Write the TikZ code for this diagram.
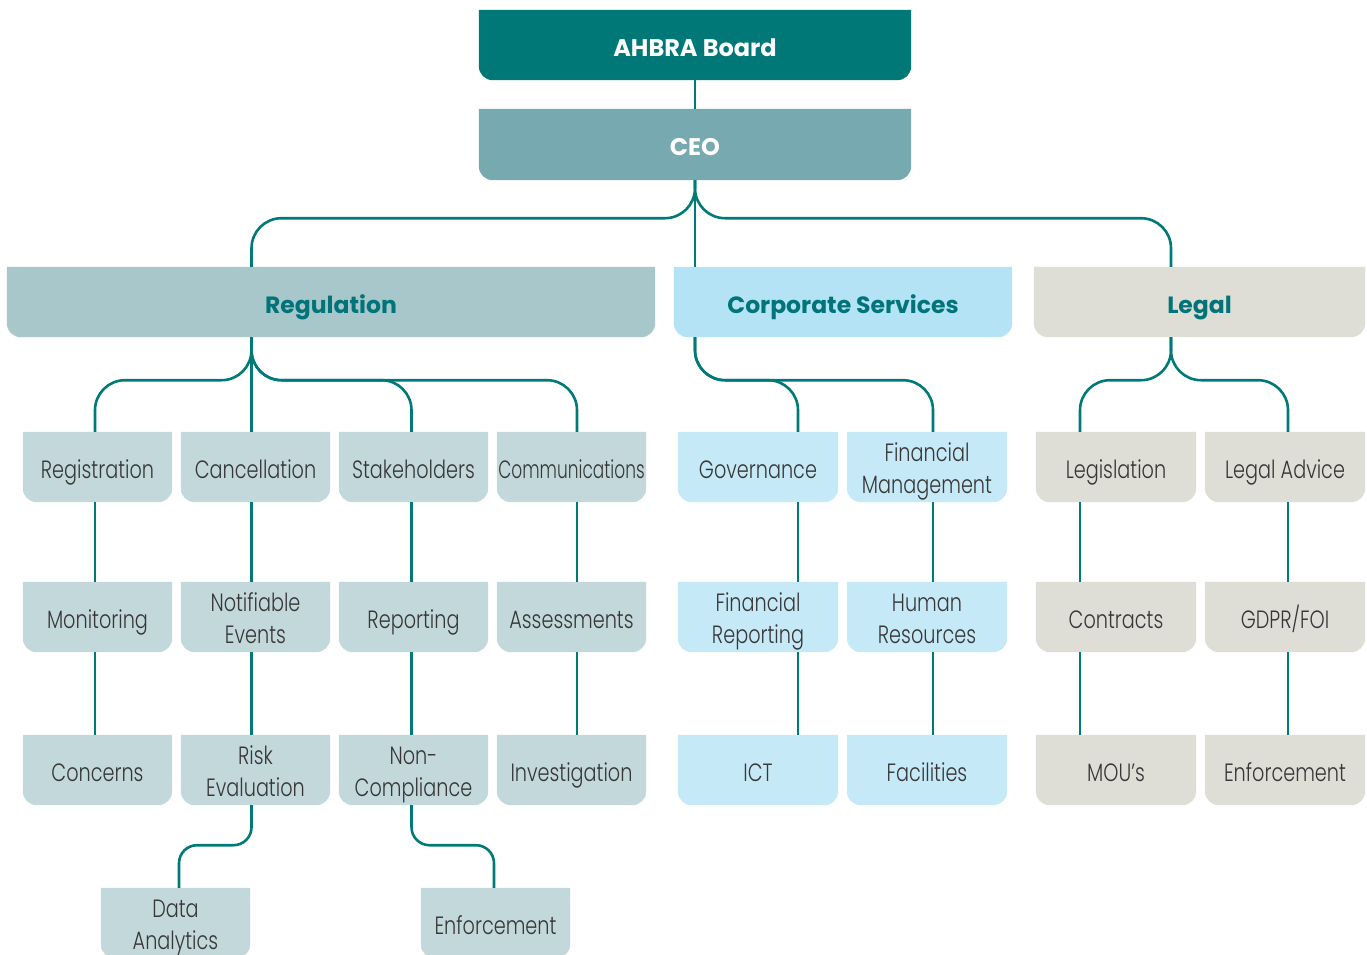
\documentclass[tikz,border=0pt]{standalone}
\usepackage{fontspec}
\setmainfont{Poppins}
\newfontfamily\boldfont{Poppins Bold}
\newfontfamily\lightfont{Poppins Light}[FakeStretch=0.77]
\newfontfamily\narrowfont{Poppins Light}[FakeStretch=0.68]
\usetikzlibrary{backgrounds}

\definecolor{boardcol}{RGB}{0,120,120}
\definecolor{ceocol}{RGB}{119,170,176}
\definecolor{reghead}{RGB}{168,199,202}
\definecolor{regsub}{RGB}{194,216,219}
\definecolor{cshead}{RGB}{180,227,246}
\definecolor{cssub}{RGB}{198,233,247}
\definecolor{legalcol}{RGB}{222,221,214}
\definecolor{headtext}{RGB}{0,116,120}
\definecolor{subtext}{RGB}{55,55,55}
\definecolor{linkcol}{RGB}{0,122,120}

% fill a box whose bottom corners are rounded
\newcommand\tabfill[2]{%
  \fill[#2] (#1.north west) -- (#1.north east)
    -- ([yshift=14pt]#1.south east) arc[start angle=0,end angle=-90,radius=14pt]
    -- ([xshift=14pt]#1.south west) arc[start angle=270,end angle=180,radius=14pt]
    -- cycle;}

% two centred lines with a fixed first-line height
\newcommand\twoln[2]{\vbox{\halign{\hfil##\hfil\cr\rule{0pt}{29pt}#1\cr #2\cr}}}

\tikzset{
  % struts give every label the same height and depth
  struts/.style={execute at begin node={\rule{0pt}{31pt}},
                 execute at end node={\rule[-9pt]{0pt}{9pt}}},
  topbox/.style={struts, minimum width=432pt, minimum height=70pt, inner sep=0pt,
    font=\boldfont\fontsize{24}{32}\selectfont, text=white},
  headbox/.style={struts, minimum height=70pt, inner sep=0pt,
    font=\boldfont\fontsize{23.5}{32}\selectfont, text=headtext},
  subbox/.style={struts, minimum width=149pt, minimum height=70pt, inner sep=0pt,
    font=\lightfont\fontsize{25}{32}\selectfont, text=subtext},
  narrowbox/.style={subbox, font=\narrowfont\fontsize{25}{32}\selectfont},
  widebox/.style={subbox, minimum width=160pt},
  link/.style={draw=linkcol, line width=2.6pt, rounded corners=30pt},
  tightlink/.style={link, rounded corners=18pt},
}

\begin{document}
\begin{tikzpicture}[x=1pt,y=-1pt]
\useasboundingbox (0,0) rectangle (1367,954);

% top of the chart
\node[topbox] (board) at (695,45) {AHBRA Board};
\node[topbox, minimum height=71pt] (ceo) at (695,144.5) {CEO};

% divisions
\node[headbox, minimum width=648pt] (reg) at (331,302) {Regulation};
\node[headbox, minimum width=338pt] (cs) at (843,302) {Corporate Services};
\node[headbox, minimum width=331pt] (legal) at (1199.5,302) {Legal};

% Regulation units
\node[subbox] (registration) at (97.5,467) {Registration};
\node[subbox] (cancel) at (255.5,467) {Cancellation};
\node[subbox] (stake) at (413.5,467) {Stakeholders};
\node[narrowbox] (comms) at (571.5,467) {Communications};
\node[subbox] (monitor) at (97.5,617) {Monitoring};
\node[subbox] (notify) at (255.5,617) {\twoln{Notifiable}{Events}};
\node[subbox] (report) at (413.5,617) {Reporting};
\node[subbox] (assess) at (571.5,617) {Assessments};
\node[subbox] (concern) at (97.5,770) {Concerns};
\node[subbox] (risk) at (255.5,770) {\twoln{Risk}{Evaluation}};
\node[subbox] (noncomp) at (413.5,770) {\twoln{Non-}{Compliance}};
\node[subbox] (invest) at (571.5,770) {Investigation};
\node[subbox] (data) at (175.5,923) {\twoln{Data}{Analytics}};
\node[subbox] (enfreg) at (495.5,923) {Enforcement};

% Corporate Services units
\node[widebox] (gov) at (758,467) {Governance};
\node[widebox] (finman) at (927,467) {\twoln{Financial}{Management}};
\node[widebox] (finrep) at (758,617) {\twoln{Financial}{Reporting}};
\node[widebox] (hr) at (927,617) {\twoln{Human}{Resources}};
\node[widebox] (ict) at (758,770) {ICT};
\node[widebox] (facil) at (927,770) {Facilities};

% Legal units
\node[widebox] (legis) at (1116,467) {Legislation};
\node[widebox] (advice) at (1285,467) {Legal Advice};
\node[widebox] (contract) at (1116,617) {Contracts};
\node[widebox] (gdpr) at (1285,617) {GDPR/FOI};
\node[widebox] (mou) at (1116,770) {MOU’s};
\node[widebox] (enflegal) at (1285,770) {Enforcement};

\begin{pgfonlayer}{background}
  \fill[white] (0,0) rectangle (1367,954);
  \tabfill{board}{boardcol}
  \tabfill{ceo}{ceocol}
  \tabfill{reg}{reghead}
  \tabfill{cs}{cshead}
  \tabfill{legal}{legalcol}
  \foreach \n in {registration,cancel,stake,comms,monitor,notify,report,assess,
                  concern,risk,noncomp,invest,data,enfreg}
    {\tabfill{\n}{regsub}}
  \foreach \n in {gov,finman,finrep,hr,ict,facil}
    {\tabfill{\n}{cssub}}
  \foreach \n in {legis,advice,contract,gdpr,mou,enflegal}
    {\tabfill{\n}{legalcol}}
\end{pgfonlayer}

% board to CEO to divisions
\draw[link] (board.south) -- (ceo.north);
\draw[link] (ceo.south) -- (ceo.south |- cs.north);
\draw[link] (ceo.south) -- ++(0,38) -| ([xshift=-79.5pt]reg.north);
\draw[link] (ceo.south) -- ++(0,38) -| ([xshift=-28.5pt]legal.north);

% Regulation branches
\draw[link] ([xshift=-79.5pt]reg.south) -- ([xshift=-4pt]cancel.north);
\draw[link] ([xshift=-79.5pt]reg.south) -- ++(0,43) -| ([xshift=-2.5pt]registration.north);
\draw[link] ([xshift=-79.5pt]reg.south) -- ++(0,43) -| ([xshift=-2pt]stake.north);
\draw[link] ([xshift=-79.5pt]reg.south) -- ++(0,43) -| ([xshift=5.5pt]comms.north);

% Corporate Services branches
\draw[link] ([xshift=-148pt]cs.south) -- ++(0,43) -| ([xshift=40pt]gov.north);
\draw[link] ([xshift=-148pt]cs.south) -- ++(0,43) -| ([xshift=6pt]finman.north);

% Legal branches
\draw[link] ([xshift=-28.5pt]legal.south) -- ++(0,43) -| ([xshift=-36pt]legis.north);
\draw[link] ([xshift=-28.5pt]legal.south) -- ++(0,43) -| ([xshift=3pt]advice.north);

% columns of units
\foreach \a/\b/\d in {registration/monitor/-2.5, monitor/concern/-2.5,
    cancel/notify/-4, notify/risk/-4, stake/report/-2, report/noncomp/-2,
    comms/assess/5.5, assess/invest/5.5, gov/finrep/40, finrep/ict/40,
    finman/hr/6, hr/facil/6, legis/contract/-36, contract/mou/-36,
    advice/gdpr/3, gdpr/enflegal/3}
  {\draw[link] ([xshift=\d pt]\a.south) -- ([xshift=\d pt]\b.north);}

% lowest level
\draw[tightlink] ([xshift=-4pt]risk.south) -- ++(0,40) -| ([xshift=3.5pt]data.north);
\draw[tightlink] ([xshift=-2pt]noncomp.south) -- ++(0,40) -| ([xshift=-1.5pt]enfreg.north);
\end{tikzpicture}
\end{document}
